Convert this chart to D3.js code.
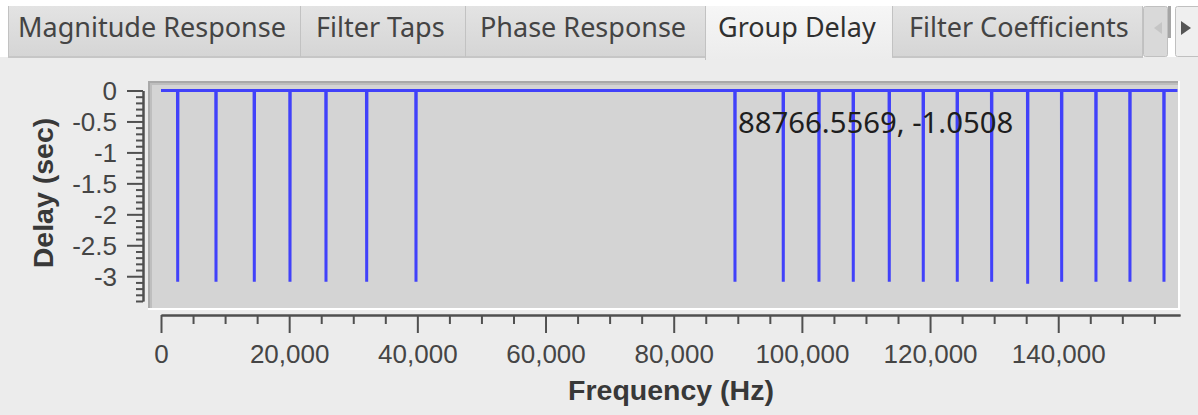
<!DOCTYPE html>
<html>
<head>
<meta charset="utf-8">
<script src="https://cdn.jsdelivr.net/npm/d3@7"></script>
<style>
  html, body { margin: 0; padding: 0; background: #ffffff; }
  svg { display: block; }
</style>
</head>
<body>
<svg id="chart" width="1198" height="415"></svg>
<script>
// Group delay of the designed filter: a flat 0 s response with narrow dips.
const spikeFreqs = [2606, 8582, 14558, 20128, 25745, 32095, 39788,
                    89561, 97097, 102668, 108020, 113637, 118942, 124247,
                    129614, 135232, 140536, 145888, 151193, 156498];
const spikeDelays = [-3.09, -3.09, -3.09, -3.09, -3.09, -3.09, -3.09,
                     -3.09, -3.09, -3.09, -3.09, -3.09, -3.09, -3.09,
                     -3.09, -3.12, -3.09, -3.09, -3.09, -3.09];
const freqStart = 0;
const freqEnd = 158600;

// Axis ticks
const xTickValues = [0, 20000, 40000, 60000, 80000, 100000, 120000, 140000];
const xTickLabels = ["0", "20,000", "40,000", "60,000", "80,000", "100,000", "120,000", "140,000"];
const yTickValues = [0, -0.5, -1, -1.5, -2, -2.5, -3];
const yTickLabels = ["0", "-0.5", "-1", "-1.5", "-2", "-2.5", "-3"];

// Tabs of the filter design window
const tabNames = ["Magnitude Response", "Filter Taps", "Phase Response", "Group Delay", "Filter Coefficients"];
const activeTab = "Group Delay";

// Tracker readout at the cursor
const trackerText = "88766.5569, -1.0508";

const svg = d3.select("#chart");
const W = 1198, H = 415;

// ---------- window background ----------
svg.append("rect").attr("x", 0).attr("y", 0).attr("width", W).attr("height", H).attr("fill", "#ffffff");
svg.append("rect").attr("x", 0).attr("y", 57).attr("width", W).attr("height", H - 57).attr("fill", "#ececec");

const defs = svg.append("defs");
const gTab = defs.append("linearGradient").attr("id", "tabGrad").attr("x1", 0).attr("y1", 0).attr("x2", 0).attr("y2", 1);
gTab.append("stop").attr("offset", "0%").attr("stop-color", "#e3e3e3");
gTab.append("stop").attr("offset", "100%").attr("stop-color", "#d5d5d5");
const gAct = defs.append("linearGradient").attr("id", "actGrad").attr("x1", 0).attr("y1", 0).attr("x2", 0).attr("y2", 1);
gAct.append("stop").attr("offset", "0%").attr("stop-color", "#f6f6f6");
gAct.append("stop").attr("offset", "100%").attr("stop-color", "#ececec");

// ---------- tab bar ----------
const tabEdges = [8, 300, 465, 705, 892, 1143];
const tabTextX = [18, 316, 480, 718, 909];
const tabs = svg.append("g").attr("class", "tabs");
tabNames.forEach((name, i) => {
  const x0 = tabEdges[i], x1 = tabEdges[i + 1];
  const active = name === activeTab;
  tabs.append("rect")
    .attr("x", x0).attr("y", 6)
    .attr("width", x1 - x0).attr("height", active ? 54 : 51)
    .attr("fill", active ? "url(#actGrad)" : "url(#tabGrad)");
  if (!active) {
    tabs.append("rect").attr("x", x0).attr("y", 56).attr("width", x1 - x0).attr("height", 2).attr("fill", "#c6c6c6");
  }
  tabs.append("line")
    .attr("x1", x0 + 0.5).attr("x2", x0 + 0.5).attr("y1", 6).attr("y2", active ? 60 : 57)
    .attr("stroke", "#c2c2c2").attr("stroke-width", 1);
  tabs.append("text")
    .attr("x", tabTextX[i]).attr("y", 37)
    .attr("font-family", "'Noto Sans', sans-serif").attr("font-size", 27)
    .attr("fill", active ? "#303030" : "#444444")
    .text(name);
});
tabs.append("line").attr("x1", 1142.5).attr("x2", 1142.5).attr("y1", 6).attr("y2", 57).attr("stroke", "#c2c2c2");

// scroll buttons
tabs.append("rect").attr("x", 1143.5).attr("y", 6.5).attr("width", 24).attr("height", 50).attr("rx", 2)
  .attr("fill", "#d9d9d9").attr("stroke", "#c0c0c0");
tabs.append("path").attr("d", "M1162,22 L1162,34 L1154,28 Z").attr("fill", "#c5c5c5");
tabs.append("rect").attr("x", 1168).attr("y", 6).attr("width", 3).attr("height", 32).attr("fill", "#a5a5a5");
tabs.append("rect").attr("x", 1175.5).attr("y", 6.5).attr("width", 26).attr("height", 50).attr("rx", 2)
  .attr("fill", "#efefef").attr("stroke", "#c0c0c0");
tabs.append("path").attr("d", "M1181,21 L1181,35 L1191,28 Z").attr("fill", "#555555");

// ---------- plot canvas ----------
const canvas = svg.append("g").attr("class", "canvas");
canvas.append("rect").attr("x", 148).attr("y", 81).attr("width", 1032).attr("height", 229).attr("fill", "#ffffff");
canvas.append("rect").attr("x", 148).attr("y", 81).attr("width", 1030).attr("height", 227).attr("fill", "#a9a9a9");
canvas.append("rect").attr("x", 150).attr("y", 83).attr("width", 1028).attr("height", 225).attr("fill", "#bebebe");
canvas.append("rect").attr("x", 152).attr("y", 85).attr("width", 1026).attr("height", 223).attr("fill", "#d4d4d4");

// ---------- scales ----------
const x = d3.scaleLinear().domain([0, 159000]).range([161, 1180]);
const y = d3.scaleLinear().domain([-3.4, 0]).range([301, 90.5]);

// ---------- curve ----------
const halfWidth = 35; // Hz on each side of a dip
const points = [{ f: freqStart, d: 0 }];
spikeFreqs.forEach((f, i) => {
  points.push({ f: f - halfWidth, d: 0 });
  points.push({ f: f, d: spikeDelays[i] });
  points.push({ f: f + halfWidth, d: 0 });
});
points.push({ f: freqEnd, d: 0 });

const line = d3.line().x(p => x(p.f)).y(p => y(p.d));
svg.append("path")
  .datum(points)
  .attr("d", line)
  .attr("fill", "none")
  .attr("stroke", "#2c2cff")
  .attr("stroke-opacity", 0.88)
  .attr("stroke-width", 3)
  .attr("stroke-linejoin", "miter");

// tracker readout
svg.append("text")
  .attr("x", 738).attr("y", 133)
  .attr("font-family", "'Noto Sans', sans-serif").attr("font-size", 29.3)
  .attr("fill", "#1e1e1e")
  .text(trackerText);

// ---------- axes ----------
const axisColor = "#505050";
const tickFont = "'Liberation Sans', Arial, sans-serif";

function styleAxis(g) {
  g.selectAll("path.domain").attr("stroke", axisColor).attr("stroke-width", 2);
  g.selectAll(".tick line").attr("stroke", axisColor).attr("stroke-width", 2);
}

// y axis: minor ticks every 0.1, majors every 0.5
const yMinor = d3.range(0, 35).map(k => -k / 10).filter(v => !yTickValues.some(t => Math.abs(t - v) < 1e-9));
const gyMinor = svg.append("g").attr("transform", "translate(143,0)")
  .call(d3.axisLeft(y).tickValues(yMinor).tickSize(7).tickSizeOuter(0).tickFormat(""));
styleAxis(gyMinor);
const gy = svg.append("g").attr("transform", "translate(143,0)")
  .call(d3.axisLeft(y).tickValues(yTickValues).tickSize(16).tickSizeOuter(0)
    .tickFormat((d, i) => yTickLabels[i]).tickPadding(10));
styleAxis(gy);
gy.selectAll(".tick text")
  .attr("font-family", tickFont).attr("font-size", 26).attr("fill", "#454545")
  .attr("dy", "0.36em");

// x axis: minor ticks every 5,000, majors every 20,000
const xMinor = d3.range(5000, 159000, 5000).filter(v => v % 20000 !== 0);
const gxMinor = svg.append("g").attr("transform", "translate(0,315)")
  .call(d3.axisBottom(x).tickValues(xMinor).tickSize(9).tickSizeOuter(0).tickFormat(""));
styleAxis(gxMinor);
const gx = svg.append("g").attr("transform", "translate(0,315)")
  .call(d3.axisBottom(x).tickValues(xTickValues).tickSize(18).tickSizeOuter(0)
    .tickFormat((d, i) => xTickLabels[i]));
styleAxis(gx);
gx.selectAll(".tick text")
  .attr("font-family", tickFont).attr("font-size", 26).attr("fill", "#454545")
  .attr("y", 47.5).attr("dy", 0);

// axis titles
svg.append("text")
  .attr("x", 671).attr("y", 400)
  .attr("text-anchor", "middle")
  .attr("font-family", "'Liberation Sans', Arial, sans-serif").attr("font-weight", "bold").attr("font-size", 28.5)
  .attr("fill", "#383838")
  .text("Frequency (Hz)");
svg.append("text")
  .attr("transform", "translate(53,193) rotate(-90)")
  .attr("text-anchor", "middle")
  .attr("font-family", "'Liberation Sans', Arial, sans-serif").attr("font-weight", "bold").attr("font-size", 28.5)
  .attr("fill", "#383838")
  .text("Delay (sec)");
</script>
</body>
</html>
